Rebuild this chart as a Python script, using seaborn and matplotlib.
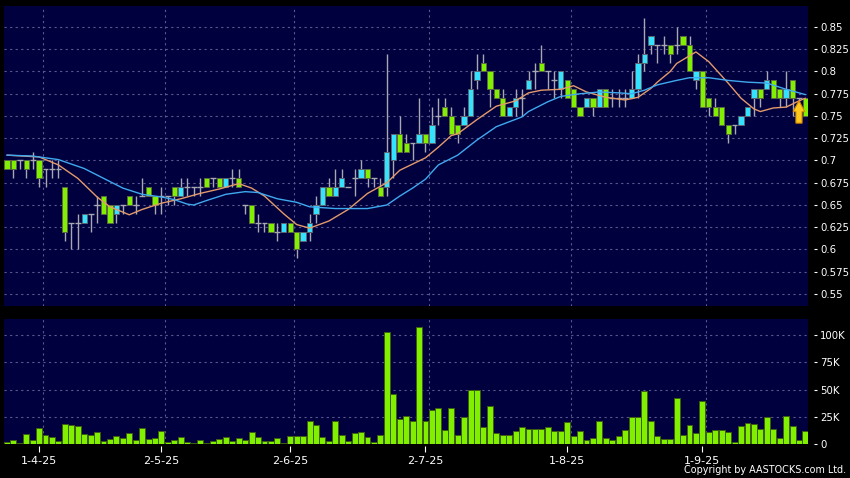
import numpy as np
import pandas as pd
import seaborn as sns
import matplotlib.pyplot as plt
from matplotlib.patches import FancyArrow

# daily candles (HK$)
opens = [0.70, 0.70, 0.70, 0.70, 0.70, 0.70, 0.69, 0.69, 0.69, 0.67,
         0.63, 0.63, 0.63, 0.64, 0.65, 0.66, 0.65, 0.64, 0.65, 0.66,
         0.65, 0.66, 0.67, 0.66, 0.66, 0.66, 0.67, 0.66, 0.67, 0.67,
         0.67, 0.68, 0.68, 0.68, 0.67, 0.68, 0.68, 0.65, 0.65, 0.63,
         0.63, 0.63, 0.62, 0.62, 0.63, 0.62, 0.61, 0.62, 0.64, 0.65,
         0.67, 0.66, 0.67, 0.67, 0.68, 0.68, 0.69, 0.68, 0.67, 0.67,
         0.70, 0.73, 0.72, 0.72, 0.72, 0.73, 0.72, 0.75, 0.76, 0.75,
         0.74, 0.74, 0.75, 0.79, 0.81, 0.80, 0.78, 0.77, 0.75, 0.76,
         0.77, 0.78, 0.80, 0.81, 0.80, 0.79, 0.78, 0.79, 0.78, 0.76,
         0.76, 0.77, 0.76, 0.78, 0.77, 0.77, 0.77, 0.77, 0.78, 0.81,
         0.83, 0.83, 0.83, 0.83, 0.83, 0.84, 0.83, 0.79, 0.80, 0.77,
         0.76, 0.76, 0.74, 0.74, 0.74, 0.75, 0.77, 0.78, 0.78, 0.79,
         0.78, 0.77, 0.79, 0.77, 0.77]
highs = [0.70, 0.70, 0.70, 0.70, 0.71, 0.70, 0.69, 0.70, 0.70, 0.67,
         0.63, 0.64, 0.64, 0.64, 0.66, 0.66, 0.65, 0.65, 0.65, 0.66,
         0.66, 0.68, 0.67, 0.66, 0.67, 0.66, 0.67, 0.68, 0.68, 0.67,
         0.68, 0.68, 0.68, 0.68, 0.68, 0.69, 0.69, 0.65, 0.65, 0.64,
         0.63, 0.63, 0.63, 0.63, 0.63, 0.62, 0.62, 0.64, 0.66, 0.67,
         0.68, 0.69, 0.69, 0.67, 0.69, 0.70, 0.69, 0.68, 0.68, 0.82,
         0.73, 0.75, 0.73, 0.72, 0.77, 0.73, 0.76, 0.77, 0.77, 0.76,
         0.74, 0.76, 0.80, 0.82, 0.82, 0.80, 0.78, 0.78, 0.76, 0.78,
         0.78, 0.80, 0.81, 0.83, 0.80, 0.80, 0.80, 0.79, 0.78, 0.76,
         0.77, 0.77, 0.78, 0.78, 0.78, 0.78, 0.78, 0.80, 0.82, 0.86,
         0.84, 0.83, 0.84, 0.83, 0.85, 0.84, 0.84, 0.80, 0.80, 0.77,
         0.77, 0.76, 0.74, 0.74, 0.75, 0.76, 0.78, 0.78, 0.80, 0.79,
         0.78, 0.80, 0.79, 0.77, 0.77]
lows = [0.69, 0.68, 0.69, 0.68, 0.69, 0.67, 0.67, 0.68, 0.68, 0.61,
        0.60, 0.60, 0.63, 0.62, 0.63, 0.64, 0.63, 0.63, 0.64, 0.65,
        0.64, 0.66, 0.66, 0.64, 0.64, 0.65, 0.65, 0.66, 0.66, 0.66,
        0.66, 0.67, 0.67, 0.67, 0.67, 0.67, 0.67, 0.64, 0.63, 0.62,
        0.62, 0.62, 0.61, 0.62, 0.62, 0.59, 0.61, 0.61, 0.63, 0.65,
        0.66, 0.66, 0.67, 0.67, 0.66, 0.68, 0.67, 0.67, 0.66, 0.66,
        0.68, 0.71, 0.71, 0.70, 0.72, 0.71, 0.72, 0.74, 0.75, 0.73,
        0.72, 0.74, 0.75, 0.78, 0.80, 0.76, 0.77, 0.75, 0.75, 0.75,
        0.75, 0.78, 0.78, 0.80, 0.78, 0.77, 0.77, 0.77, 0.76, 0.75,
        0.76, 0.75, 0.76, 0.76, 0.76, 0.76, 0.76, 0.77, 0.77, 0.80,
        0.82, 0.81, 0.82, 0.81, 0.82, 0.83, 0.80, 0.78, 0.76, 0.75,
        0.75, 0.74, 0.72, 0.73, 0.74, 0.75, 0.75, 0.76, 0.78, 0.77,
        0.76, 0.76, 0.75, 0.75, 0.75]
closes = [0.69, 0.69, 0.70, 0.69, 0.70, 0.68, 0.69, 0.69, 0.69, 0.62,
          0.63, 0.63, 0.64, 0.64, 0.65, 0.64, 0.63, 0.65, 0.65, 0.65,
          0.65, 0.66, 0.66, 0.65, 0.66, 0.66, 0.66, 0.67, 0.67, 0.67,
          0.67, 0.67, 0.68, 0.67, 0.68, 0.68, 0.67, 0.65, 0.63, 0.63,
          0.63, 0.62, 0.62, 0.63, 0.62, 0.60, 0.62, 0.63, 0.65, 0.67,
          0.66, 0.67, 0.68, 0.67, 0.68, 0.69, 0.68, 0.68, 0.66, 0.71,
          0.73, 0.71, 0.71, 0.72, 0.73, 0.72, 0.74, 0.75, 0.75, 0.73,
          0.73, 0.75, 0.78, 0.80, 0.80, 0.78, 0.77, 0.75, 0.76, 0.77,
          0.77, 0.79, 0.80, 0.80, 0.80, 0.79, 0.80, 0.77, 0.76, 0.75,
          0.77, 0.76, 0.78, 0.76, 0.77, 0.77, 0.77, 0.78, 0.81, 0.82,
          0.84, 0.83, 0.83, 0.82, 0.83, 0.83, 0.80, 0.80, 0.76, 0.76,
          0.75, 0.74, 0.73, 0.74, 0.75, 0.76, 0.78, 0.77, 0.79, 0.77,
          0.77, 0.78, 0.77, 0.77, 0.75]
# volume in thousands of shares
volume_k = [2, 4, 1, 9.5, 3.4, 14.4, 8.6, 6.4, 3, 18.7,
            17.7, 16.5, 9.5, 8.6, 10.7, 3, 4.3, 7.3, 5.2, 10.4,
            4, 14.4, 4.6, 5.8, 12.2, 1.5, 3.7, 6.7, 2, 0.6,
            4, 1, 2.8, 4.9, 6.7, 2.4, 5.8, 4, 11, 6.1,
            3, 3, 5.8, 1, 7, 7.6, 7.6, 21, 17.7, 6.7,
            3, 21, 8.3, 3, 10, 10.7, 6.4, 1.5, 8, 103,
            46, 23, 25.7, 21, 108, 21.4, 31, 32.7, 13, 32.7,
            8.3, 25, 49.5, 49.5, 15.3, 34.6, 10, 8.3, 8.3, 12.2,
            15.9, 13.5, 13.5, 13.8, 15.6, 12.2, 12.2, 20.5, 7.6, 12.2,
            3.7, 5.8, 21.4, 5.8, 3.7, 7.6, 13, 25, 25, 49,
            21.4, 7.6, 4.6, 4.9, 42, 8.6, 17.4, 10, 40, 11.3,
            13, 13, 11.3, 1.8, 16.2, 19.6, 18.3, 13.5, 25, 14,
            5.5, 25.4, 17, 3.7, 12.2]

# moving averages (bar number, price)
ma10_idx = [0, 5, 7, 8, 11, 14, 16, 19, 21, 24, 27, 30, 33, 36, 38, 40, 43,
            45, 47, 50, 53, 56, 59, 61, 63, 65, 67, 69, 70, 73, 76, 79, 81,
            83, 86, 88, 90, 93, 96, 98, 100, 101, 103, 104, 107, 109, 112,
            114, 116, 117, 119, 121, 123, 124]
ma10_val = [0.706, 0.704, 0.698, 0.695, 0.680, 0.659, 0.648, 0.639, 0.645,
            0.652, 0.657, 0.663, 0.668, 0.674, 0.669, 0.660, 0.640, 0.628,
            0.624, 0.632, 0.645, 0.663, 0.675, 0.689, 0.696, 0.703, 0.715,
            0.728, 0.730, 0.746, 0.761, 0.767, 0.776, 0.779, 0.780, 0.784,
            0.777, 0.771, 0.768, 0.771, 0.781, 0.788, 0.800, 0.809, 0.822,
            0.811, 0.787, 0.770, 0.758, 0.755, 0.759, 0.760, 0.767, 0.770]
ma20_idx = [0, 4, 8, 12, 15, 18, 21, 24, 26, 28, 29, 31, 34, 37, 39, 42, 45,
            47, 51, 56, 59, 61, 63, 65, 67, 70, 73, 76, 80, 81, 84, 86, 89,
            92, 95, 97, 99, 101, 104, 106, 109, 112, 115, 118, 121, 124]
ma20_val = [0.706, 0.705, 0.701, 0.691, 0.680, 0.669, 0.662, 0.659, 0.656,
            0.651, 0.650, 0.655, 0.662, 0.665, 0.664, 0.657, 0.653, 0.648,
            0.646, 0.646, 0.650, 0.660, 0.669, 0.679, 0.695, 0.706, 0.723,
            0.738, 0.749, 0.755, 0.766, 0.772, 0.775, 0.777, 0.776, 0.775,
            0.779, 0.785, 0.790, 0.793, 0.793, 0.790, 0.788, 0.787, 0.780,
            0.774]

date_idx = [5, 24, 44, 65, 87, 108]
date_labels = ['1-4-25', '2-5-25', '2-6-25', '2-7-25', '1-8-25', '1-9-25']
price_ticks = [0.55, 0.575, 0.6, 0.625, 0.65, 0.675, 0.7, 0.725, 0.75, 0.775,
               0.8, 0.825, 0.85]
price_labels = ['0.55', '0.575', '0.6', '0.625', '0.65', '0.675', '0.7',
                '0.725', '0.75', '0.775', '0.8', '0.825', '0.85']
vol_ticks = [0, 25, 50, 75, 100]
vol_labels = ['0', '25K', '50K', '75K', '100K']

df = pd.DataFrame({'open': opens, 'high': highs, 'low': lows,
                   'close': closes, 'volume': volume_k})
df['idx'] = np.arange(len(df))
up = df[df['close'] > df['open']]
down = df[df['close'] < df['open']]
flat = df[df['close'] == df['open']]

navy = '#00003F'
cyan = '#33E2FF'
lime = '#80F000'
wick = '#A8A8B0'
grid_col = '#58588C'

sns.set_style('dark', {'axes.facecolor': navy, 'figure.facecolor': 'black'})
plt.rcParams['font.family'] = ['DejaVu Sans']

fig = plt.figure(figsize=(8.5, 4.78), dpi=100, facecolor='black')
ax = fig.add_axes([4 / 850, 1 - 306 / 478, 804 / 850, 300 / 478])
axv = fig.add_axes([4 / 850, 1 - 444 / 478, 804 / 850, 125 / 478], sharex=ax)

#grids
for a in (ax, axv):
    a.set_facecolor(navy)
    for s in a.spines.values():
        s.set_visible(False)
    for d in date_idx:
        a.axvline(d + 0.6, color=grid_col, lw=0.8, ls=(0, (2, 3)), zorder=0)
for p in price_ticks:
    ax.axhline(p, color=grid_col, lw=0.8, ls=(0, (2, 3)), zorder=0)
for v in vol_ticks[1:]:
    axv.axhline(v, color=grid_col, lw=0.8, ls=(0, (2, 3)), zorder=0)

#candles
ax.vlines(df['idx'], df['low'], df['high'], color=wick, lw=1, zorder=2)
ax.hlines(flat['close'], flat['idx'] - 0.45, flat['idx'] + 0.45, color=wick, lw=1, zorder=2)
ax.bar(up['idx'], up['close'] - up['open'], bottom=up['open'], width=0.82,
       color=cyan, edgecolor='#5A6470', lw=0.7, zorder=3)
ax.bar(down['idx'], down['open'] - down['close'], bottom=down['close'], width=0.82,
       color=lime, edgecolor='#5A6A40', lw=0.7, zorder=3)

#moving averages
sns.lineplot(x=ma10_idx, y=ma10_val, ax=ax, color='#E49A6A', lw=1, zorder=4)
sns.lineplot(x=ma20_idx, y=ma20_val, ax=ax, color='#3FA9EE', lw=1, zorder=4)

# latest-day marker
last = df['idx'].iloc[-1]
ax.add_patch(FancyArrow(last - 1, df['close'].iloc[-1] - 0.008, 0, 0.025,
                        width=0.95, head_width=1.8, head_length=0.012,
                        length_includes_head=True, fc='#FFC81E', ec='#D88A00',
                        lw=0.8, zorder=6))

#volume
sns.barplot(x=df['idx'], y=df['volume'], ax=axv, native_scale=True, width=0.92,
            color=lime, saturation=1, edgecolor='#3E5E12', linewidth=0.7, zorder=3)

ax.set_xlim(-0.45, 124.4)
ax.set_ylim(0.5365, 0.8736)
axv.set_ylim(0, 115)

for a, ticks, labels in ((ax, price_ticks, price_labels), (axv, vol_ticks, vol_labels)):
    a.yaxis.tick_right()
    a.spines['right'].set_position(('outward', 4))
    a.set_yticks(ticks)
    a.set_yticklabels(labels)
    a.tick_params(axis='y', colors='white', length=2.5, width=0.8, pad=2.2,
                  labelsize=7.3, right=True, left=False)
    a.set_xlabel('')
    a.set_ylabel('')

axv.set_xticks(date_idx)
axv.set_xticklabels(date_labels)
axv.spines['bottom'].set_position(('outward', 1.5))
axv.tick_params(axis='x', colors='white', length=4, width=0.8, pad=3,
                labelsize=8, bottom=True)
ax.tick_params(axis='x', bottom=False, labelbottom=False)
ax.set_xlim(-0.45, 124.4)

fig.text(0.995, 0.006, 'Copyright by AASTOCKS.com Ltd.', ha='right', va='bottom',
         color='white', fontsize=6.9)

fig.savefig('out.png', dpi=100, facecolor='black')
